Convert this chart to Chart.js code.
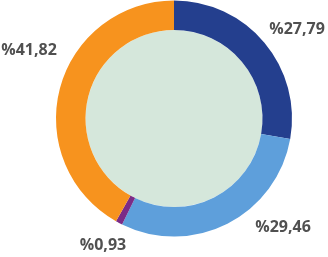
<!DOCTYPE html>
<html>
<head>
<meta charset="UTF-8">
<title>Doughnut</title>
<script src="https://cdn.jsdelivr.net/npm/chart.js@4.4.1/dist/chart.umd.min.js"></script>
<style>
  html, body { margin: 0; padding: 0; background: #fff; }
  #wrap { width: 328px; height: 257px; position: relative; }
</style>
</head>
<body>
<div id="wrap"><canvas id="chart"></canvas></div>
<script>
const categories = ['A', 'B', 'C', 'D']
const values = [27.79, 29.46, 0.93, 41.82]
const valueLabels = ['%27,79', '%29,46', '%0,93', '%41,82']
const colors = ['#243f8e', '#5e9fdb', '#7b2b86', '#f7931e']

// label anchor points (centre of text), in canvas px
const labelSpots = [[297, 29], [283, 227], [103, 245], [29, 50]]

const holeFill = {
  id: 'holeFill',
  beforeDatasetsDraw(chart) {
    const arc = chart.getDatasetMeta(0).data[0]
    if (!arc) return
    const ctx = chart.ctx
    ctx.save()
    ctx.fillStyle = '#d5e7db'
    ctx.beginPath()
    ctx.arc(arc.x, arc.y, arc.innerRadius, 0, Math.PI * 2)
    ctx.fill()
    ctx.restore()
  }
}

const valueText = {
  id: 'valueText',
  afterDraw(chart) {
    const ctx = chart.ctx
    ctx.save()
    ctx.font = 'bold 16px "Open Sans"'
    ctx.fillStyle = '#505050'
    ctx.textAlign = 'center'
    ctx.textBaseline = 'middle'
    valueLabels.forEach((t, i) => {
      ctx.fillText(t, labelSpots[i][0], labelSpots[i][1])
    })
    ctx.restore()
  }
}

new Chart(document.getElementById('chart'), {
  type: 'doughnut',
  data: {
    labels: categories,
    datasets: [{
      data: values,
      backgroundColor: colors,
      borderWidth: 0
    }]
  },
  options: {
    responsive: true,
    maintainAspectRatio: false,
    animation: false,
    cutout: '75%',
    layout: { padding: { left: 56, right: 36, top: 0, bottom: 20 } },
    plugins: {
      legend: { display: false },
      tooltip: { enabled: false }
    }
  },
  plugins: [holeFill, valueText]
})
</script>
</body>
</html>
